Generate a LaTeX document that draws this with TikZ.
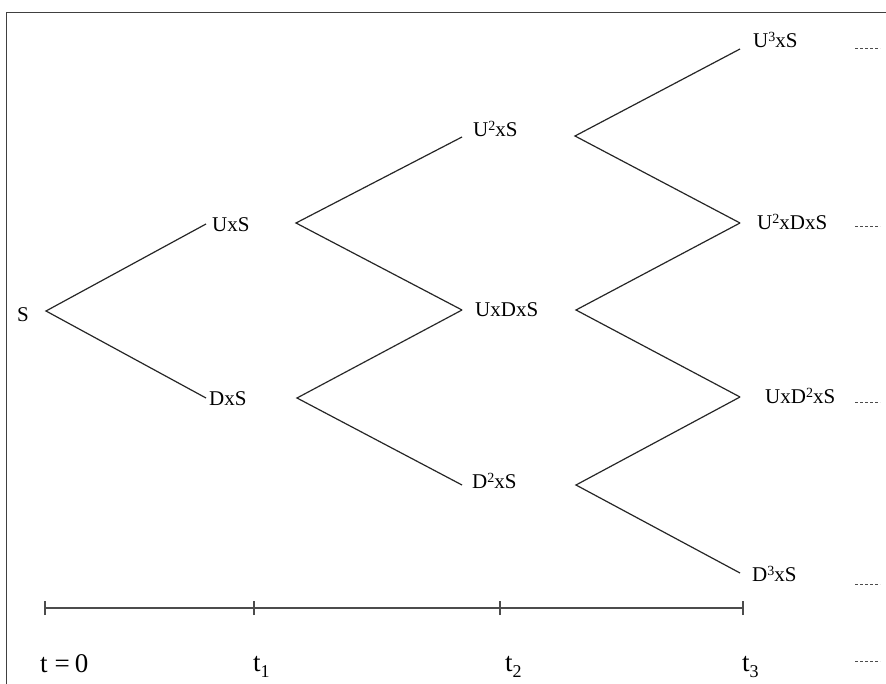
\documentclass[tikz,border=0pt]{standalone}
\usepackage{fontspec}
\setmainfont{Liberation Serif}
\newcommand\supx[1]{\raisebox{6pt}{\fontsize{14}{14}\selectfont #1}}
\newcommand\subx[1]{\raisebox{-6pt}{\fontsize{18}{18}\selectfont #1}}
\begin{document}
\begin{tikzpicture}[x=1pt,y=-1pt,
  lbl/.style={anchor=base west, inner sep=0pt, font=\fontsize{21}{21}\selectfont},
  tlbl/.style={anchor=base west, inner sep=0pt, font=\fontsize{27}{27}\selectfont},
  branch/.style={draw=black!85, line width=1.2pt},
  frame/.style={draw=black!75, line width=1.8pt},
  axis/.style={draw=black!70, line width=1.5pt},
  dots/.style={draw=black!70, line width=1pt, dash pattern=on 3pt off 2pt}]
\useasboundingbox (0,0) rectangle (886,684);
% frame
\draw[frame] (886,12.5) -- (6.5,12.5) -- (6.5,684);

% labels
\node[lbl] (S)    at (17,322) {S};
\node[lbl] (UxS)  at (212,232) {UxS};
\node[lbl] (DxS)  at (209,406) {DxS};
\node[lbl] (UU)   at (473,137) {U\supx{2}xS};
\node[lbl] (UD)   at (475,317) {UxDxS};
\node[lbl] (DD)   at (472,488) {D\supx{2}xS};
\node[lbl] (UUU)  at (753,48)  {U\supx{3}xS};
\node[lbl] (UUD)  at (757,230) {U\supx{2}xDxS};
\node[lbl] (UDD)  at (765,403) {UxD\supx{2}xS};
\node[lbl] (DDD)  at (752,581) {D\supx{3}xS};

% ports
\coordinate (S-r)   at (46,311);
\coordinate (UxS-l) at (206,224);
\coordinate (UxS-r) at (296,223);
\coordinate (DxS-l) at (206,398);
\coordinate (DxS-r) at (297,398);
\coordinate (UU-l)  at (462,137);
\coordinate (UU-r)  at (575,136);
\coordinate (UD-l)  at (462,310);
\coordinate (UD-r)  at (576,310);
\coordinate (DD-l)  at (462,485);
\coordinate (DD-r)  at (576,485);
\coordinate (UUU-l) at (740,49);
\coordinate (UUD-l) at (740,223);
\coordinate (UDD-l) at (740,397);
\coordinate (DDD-l) at (740,573);

% branches
\draw[branch] (UxS-l) -- (S-r) -- (DxS-l);
\draw[branch] (UU-l) -- (UxS-r) -- (UD-l);
\draw[branch] (UD-l) -- (DxS-r) -- (DD-l);
\draw[branch] (UUU-l) -- (UU-r) -- (UUD-l);
\draw[branch] (UUD-l) -- (UD-r) -- (UDD-l);
\draw[branch] (UDD-l) -- (DD-r) -- (DDD-l);

% dotted continuations
\foreach \n/\yy in {d1/49,d2/227,d3/402,d4/584,d5/661}{
  \coordinate (\n-a) at (855,\yy);
  \coordinate (\n-b) at (880,\yy);
  \draw[dots] (\n-a) -- (\n-b);
}

% time axis
\coordinate (T0) at (45,608);
\coordinate (T1) at (254,608);
\coordinate (T2) at (500,608);
\coordinate (T3) at (743,608);
\draw[axis] (T0) -- (T3);
\foreach \p in {T0,T1,T2,T3}{
  \draw[axis] ([yshift=-7pt]\p) -- ([yshift=7pt]\p);
}
\node[tlbl] (L0) at (40,672) {t\hspace{7pt}=\hspace{5pt}0};
\node[tlbl] (L1) at (253,671) {t\subx{1}};
\node[tlbl] (L2) at (505,671) {t\subx{2}};
\node[tlbl] (L3) at (742,671) {t\subx{3}};
\end{tikzpicture}
\end{document}
